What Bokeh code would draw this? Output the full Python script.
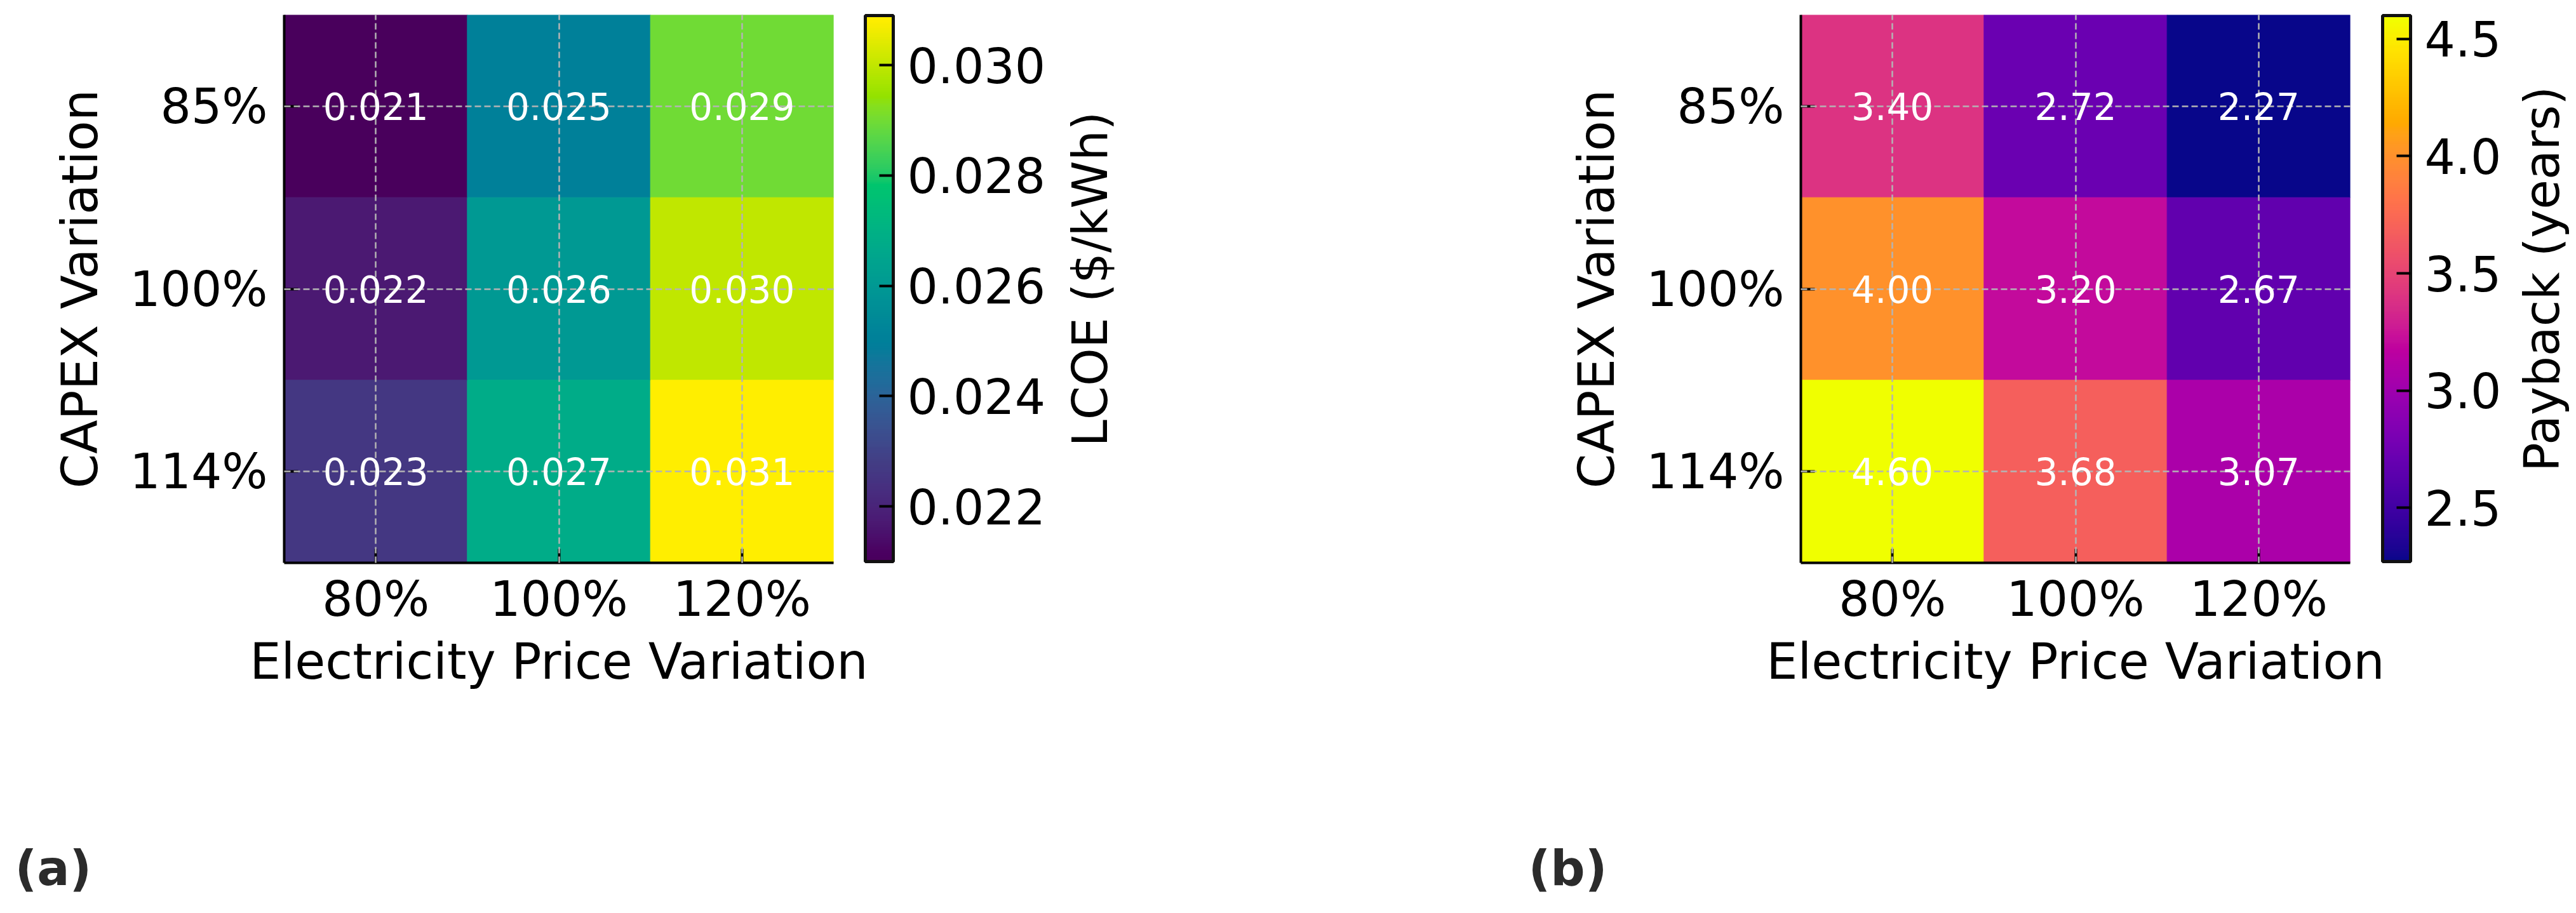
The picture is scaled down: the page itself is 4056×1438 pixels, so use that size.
import math
from bokeh.plotting import figure
from bokeh.models import (ColumnDataSource, LinearColorMapper, ColorBar, FixedTicker,
                          PrintfTickFormatter, LabelSet, Label, Range1d)
from bokeh.palettes import Viridis256, Plasma256
from bokeh.layouts import row, column
from bokeh.core.properties import value
from bokeh.embed import file_html
from bokeh.resources import INLINE

# ---------------- data ----------------
price_labels = ["80%", "100%", "120%"]          # x categories (left -> right)
capex_labels = ["85%", "100%", "114%"]          # y categories (top -> bottom)

lcoe_capex_85 = [0.0210, 0.0250, 0.0290]
lcoe_capex_100 = [0.0217, 0.0260, 0.0300]
lcoe_capex_114 = [0.0226, 0.0268, 0.0309]

payback_capex_85 = [3.40, 2.72, 2.27]
payback_capex_100 = [4.00, 3.20, 2.67]
payback_capex_114 = [4.60, 3.68, 3.07]

lcoe_ticks = [0.022, 0.024, 0.026, 0.028, 0.030]
payback_ticks = [2.5, 3.0, 3.5, 4.0, 4.5]

FONT = "DejaVu Sans"
TOP_H = 1300
BOTTOM_H = 138
B_TOP = 23
B_BOTTOM = TOP_H - 23 - 863


# ---- palette styling: more vivid colours (hue-dependent chroma boost in Lab) ----
def _lin(c):
    return c / 12.92 if c <= 0.04045 else ((c + 0.055) / 1.055) ** 2.4


def _gam(c):
    c = min(max(c, 0.0), 1.0)
    return 12.92 * c if c <= 0.0031308 else 1.055 * c ** (1 / 2.4) - 0.055


def _f(t):
    return t ** (1 / 3) if t > 0.008856 else 7.787 * t + 16 / 116


def _finv(t):
    return t ** 3 if t ** 3 > 0.008856 else (t - 16 / 116) / 7.787


def vivid(hexcol, kmax=1.2, dlmax=2.0):
    r, g, b = (_lin(int(hexcol[i:i + 2], 16) / 255) for i in (1, 3, 5))
    X = 0.4124564 * r + 0.3575761 * g + 0.1804375 * b
    Y = 0.2126729 * r + 0.7151522 * g + 0.0721750 * b
    Z = 0.0193339 * r + 0.1191920 * g + 0.9503041 * b
    fx, fy, fz = _f(X / 0.95047), _f(Y), _f(Z / 1.08883)
    L, A, B = 116 * fy - 16, 500 * (fx - fy), 200 * (fy - fz)
    h = math.degrees(math.atan2(B, A)) % 360
    dh = abs((h - 300 + 180) % 360 - 180)
    w = min(1.0, dh / 40.0)
    k = 1 + (kmax - 1) * w
    L, A, B = L + dlmax * w, A * k, B * k
    fy = (L + 16) / 116
    X, Y, Z = 0.95047 * _finv(fy + A / 500), _finv(fy), 1.08883 * _finv(fy - B / 200)
    r = 3.2404542 * X - 1.5371385 * Y - 0.4985314 * Z
    g = -0.9692660 * X + 1.8760108 * Y + 0.0415560 * Z
    b = 0.0556434 * X - 0.2040259 * Y + 1.0572252 * Z
    return "#%02x%02x%02x" % tuple(int(round(_gam(c) * 255)) for c in (r, g, b))


def blank(width, height, top, bottom):
    p = figure(width=width, height=height, x_range=Range1d(0, 1), y_range=Range1d(0, 1),
               output_backend="svg", toolbar_location=None,
               min_border_left=0, min_border_right=0,
               min_border_top=top, min_border_bottom=bottom)
    p.axis.visible = False
    p.grid.visible = False
    p.outline_line_color = None
    p.background_fill_color = "white"
    p.border_fill_color = "white"
    return p


def make_heat(rows, palette, cell_fmt, cb_ticks, cb_fmt, width, bar_x):
    n_rows = len(capex_labels)
    n_cols = len(price_labels)
    xs, ys, vals, txts = [], [], [], []
    for r, row_vals in enumerate(rows):
        for c, v in enumerate(row_vals):
            xs.append(c + 0.5)
            ys.append(n_rows - r - 0.5)
            vals.append(v)
            txts.append(cell_fmt.format(v))
    src = ColumnDataSource(dict(x=xs, y=ys, v=vals, txt=txts))
    mapper = LinearColorMapper(palette=palette, low=min(vals), high=max(vals))

    p = figure(width=width, height=TOP_H,
               x_range=Range1d(0, n_cols), y_range=Range1d(0, n_rows),
               output_backend="svg", toolbar_location=None,
               min_border_left=447, min_border_right=width - 447 - 865,
               min_border_top=B_TOP, min_border_bottom=B_BOTTOM)
    p.outline_line_color = None
    p.background_fill_color = "white"
    p.border_fill_color = "white"

    p.rect("x", "y", width=1, height=1, source=src,
           fill_color={"field": "v", "transform": mapper},
           line_color={"field": "v", "transform": mapper}, line_width=1)

    p.xaxis.ticker = FixedTicker(ticks=[i + 0.5 for i in range(n_cols)])
    p.xaxis.major_label_overrides = {i + 0.5: lab for i, lab in enumerate(price_labels)}
    p.yaxis.ticker = FixedTicker(ticks=[i + 0.5 for i in range(n_rows)])
    p.yaxis.major_label_overrides = {n_rows - i - 0.5: lab for i, lab in enumerate(capex_labels)}
    p.xaxis.axis_label = "Electricity Price Variation"
    p.yaxis.axis_label = "CAPEX Variation"
    for ax in (p.xaxis, p.yaxis):
        ax.axis_line_width = 4
        ax.axis_line_color = "black"
        ax.major_tick_in = 22
        ax.major_tick_out = 0
        ax.major_tick_line_width = 4
        ax.major_tick_line_color = "black"
        ax.minor_tick_line_color = None
        ax.major_label_text_font = FONT
        ax.major_label_text_font_size = "76px"
        ax.major_label_text_color = "black"
        ax.axis_label_text_font = FONT
        ax.axis_label_text_font_size = "78px"
        ax.axis_label_text_font_style = "normal"
        ax.axis_label_text_color = "black"
    p.xaxis.major_label_standoff = 12
    p.xaxis.axis_label_standoff = 6
    p.yaxis.major_label_standoff = 26
    p.yaxis.axis_label_standoff = 30

    for g in (p.xgrid, p.ygrid):
        g.level = "guide"
        g.grid_line_color = "#b4b4b4"
        g.grid_line_dash = "10 5"
        g.grid_line_width = 2.5

    p.add_layout(LabelSet(x="x", y="y", text="txt", source=src,
                          text_color="white", text_font=value(FONT),
                          text_font_size="58px", text_align="center",
                          text_baseline="middle"))

    cb = ColorBar(color_mapper=mapper, ticker=FixedTicker(ticks=cb_ticks),
                  formatter=PrintfTickFormatter(format=cb_fmt),
                  location=(bar_x, 2), width=44, height=860,
                  padding=0, margin=0,
                  major_tick_in=22, major_tick_out=0,
                  major_tick_line_color="black", major_tick_line_width=4,
                  minor_tick_line_color=None,
                  bar_line_color="#111111", bar_line_width=5,
                  major_label_text_font=FONT, major_label_text_font_size="76px",
                  major_label_text_color="black", label_standoff=22,
                  background_fill_color=None, border_line_color=None)
    p.add_layout(cb)
    return p


def make_title(title, width, title_x):
    p = blank(width, TOP_H, B_TOP, B_BOTTOM)
    p.add_layout(Label(x=title_x, y=447, x_units="screen", y_units="screen",
                       text=title, angle=math.pi / 2, text_align="center",
                       text_baseline="middle", text_font=FONT,
                       text_font_size="76px", text_color="black"))
    return p


def make_tag(tag, width, tag_x):
    p = blank(width, BOTTOM_H, 0, 0)
    p.add_layout(Label(x=tag_x, y=71, x_units="screen", y_units="screen",
                       text=tag, text_font=FONT, text_font_style="bold",
                       text_font_size="76px", text_color="#2b2b2b",
                       text_baseline="alphabetic"))
    return p


viridis_vivid = [vivid(c) for c in Viridis256]
plasma_vivid = [vivid(c) for c in Plasma256]

heat_a = make_heat([lcoe_capex_85, lcoe_capex_100, lcoe_capex_114], viridis_vivid,
                   "{:.3f}", lcoe_ticks, "%.3f", 1660, 915)
title_a = make_title("LCOE ($/kWh)", 728, 56)
heat_b = make_heat([payback_capex_85, payback_capex_100, payback_capex_114], plasma_vivid,
                   "{:.2f}", payback_ticks, "%.1f", 1562, 916)
title_b = make_title("Payback (years)", 106, 52)

tag_a = make_tag("(a)", 2388, 23)
tag_b = make_tag("(b)", 1668, 18)

layout = column(row(heat_a, title_a, heat_b, title_b), row(tag_a, tag_b))
open("out.html", "w").write(file_html(layout, INLINE))
